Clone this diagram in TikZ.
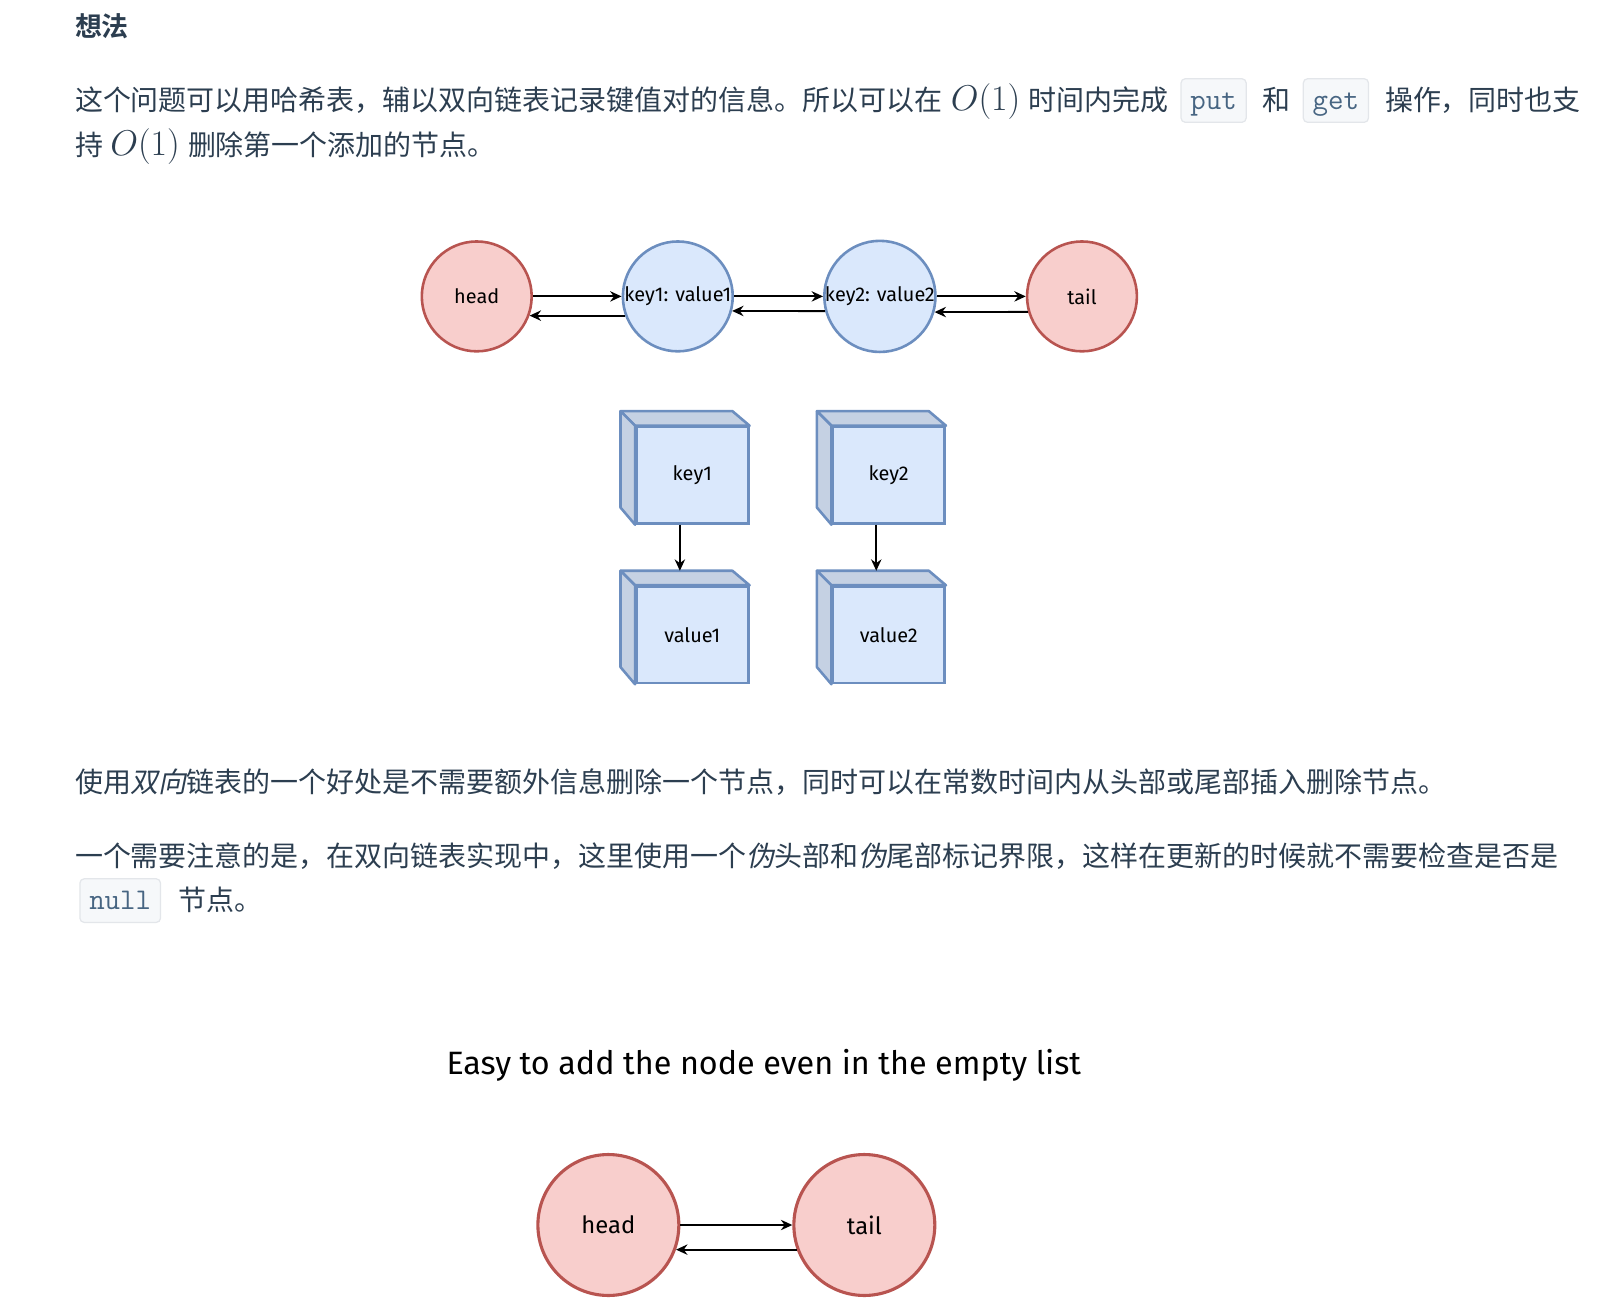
\documentclass[tikz,border=0pt]{standalone}
\usepackage{fontspec}
\usepackage{tikz}
\usetikzlibrary{arrows.meta}
\usetikzlibrary{positioning}
\newfontfamily\cjk{Noto Sans CJK SC}[BoldFont={Noto Sans CJK SC Bold}]
\newfontfamily\cjkit{Noto Sans CJK SC}[FakeSlant=0.2]
\newfontfamily\handfont{Fira Sans}
\definecolor{txt}{HTML}{2C3E50}
\definecolor{codetxt}{HTML}{476582}
\definecolor{codebg}{HTML}{F6F8FA}
\definecolor{codeline}{HTML}{E3E6EA}
\definecolor{redfill}{HTML}{F8CECC}
\definecolor{redline}{HTML}{B85450}
\definecolor{bluefill}{HTML}{DAE8FC}
\definecolor{blueline}{HTML}{6C8EBF}
\definecolor{blueside}{HTML}{C5D1E3}

\begin{document}
\begin{tikzpicture}[x=0.5pt,y=-0.5pt,
		para/.style={anchor=base west, inner sep=0pt, text=txt, font=\cjk\fontsize{13.5}{16}\selectfont},
		mathseg/.style={anchor=base west, inner sep=0pt, text=txt, font=\fontsize{16.3}{19}\selectfont},
		codebox/.style={rectangle, rounded corners=2pt, draw=codeline, fill=codebg, line width=0.6pt, minimum height=21pt, inner xsep=4.5pt, text height=11.6pt, text depth=2.6pt, text=codetxt, font=\ttfamily\fontsize{14.5}{16}\selectfont},
		endnode/.style={circle, draw=redline, fill=redfill, line width=1.25pt, minimum size=53pt, inner sep=0pt, font=\handfont\fontsize{9.6}{11}\selectfont},
		itemnode/.style={circle, draw=blueline, fill=bluefill, line width=1.25pt, minimum size=53pt, inner sep=0pt, font=\handfont\fontsize{9.6}{11}\selectfont},
		cubeface/.style={rectangle, draw=blueline, fill=bluefill, line width=1.25pt, minimum width=54pt, minimum height=46.5pt, inner sep=0pt, font=\handfont\fontsize{9.6}{11}\selectfont},
		cubeside/.style={draw=blueline, fill=blueside, line width=1.25pt, line join=round},
		bigend/.style={endnode, minimum size=68pt, line width=1.5pt, font=\handfont\fontsize{11.5}{13}\selectfont},
		link/.style={-{Stealth[length=5.5pt,width=5pt]}, line width=0.9pt}]
	\useasboundingbox (0,0) rectangle (1567,1256);

	\node[para, font=\cjk\bfseries\fontsize{13}{16}\selectfont] (title) at (72,35) {想法};

	\node[para] (l1a) at (72,107) {这个问题可以用哈希表，辅以双向链表记录键值对的信息。所以可以在};
	\node[mathseg] (l1b) at (917,107) {$O(1)$};
	\node[para] (l1c) at (992,107) {时间内完成};
	\node[codebox] (put) at (1171,97) {put};
	\node[para] (l1d) at (1218,107) {和};
	\node[codebox] (get) at (1289,97) {get};
	\node[para] (l1e) at (1336,107) {操作，同时也支};
	\node[para] (l2a) at (72,150) {持};
	\node[mathseg] (l2b) at (106,150) {$O(1)$};
	\node[para] (l2c) at (181,150) {删除第一个添加的节点。};

	\node[endnode] (head) at (460,286) {head};
	\node[itemnode] (n1) at (654,286) {key1: value1};
	\node[itemnode] (n2) at (849,286) {key2: value2};
	\node[endnode] (tail) at (1044,286) {tail};
	\draw[link] (head) -- (n1);
	\draw[link] (n1) -- (n2);
	\draw[link] (n2) -- (tail);
	\draw[link] (n1.200) -- (head.-20);
	\draw[link] (n2.195) -- (n1.-15);
	\draw[link] (tail.196) -- (n2.-16);

	\node[cubeface] (k1) at (668,458.5) {key1};
	\node[cubeface] (k2) at (857.5,458.5) {key2};
	\node[cubeface] (v1) at (668,612.5) {value1};
	\node[cubeface] (v2) at (857.5,612.5) {value2};
	\foreach \c in {k1,k2,v1,v2}{
		\filldraw[cubeside] (\c.north west) -- ++(-14,-14) -- ++(108,0) -- (\c.north east) -- cycle;
		\filldraw[cubeside] (\c.north west) -- ++(-14,-14) -- ++(0,93) -- (\c.south west) -- cycle;
	}
	\draw[link] ([xshift=-6pt]k1.south) -- ([xshift=-6pt,yshift=7pt]v1.north);
	\draw[link] ([xshift=-6pt]k2.south) -- ([xshift=-6pt,yshift=7pt]v2.north);

	\node[para] (p2) at (72,765) {使用{\cjkit 双向}链表的一个好处是不需要额外信息删除一个节点，同时可以在常数时间内从头部或尾部插入删除节点。};
	\node[para] (p3) at (72,836) {一个需要注意的是，在双向链表实现中，这里使用一个{\cjkit 伪}头部和{\cjkit 伪}尾部标记界限，这样在更新的时候就不需要检查是否是};
	\node[codebox] (null) at (116,869) {null};
	\node[para] (p3b) at (172,879) {节点。};

	\node[font=\handfont\fontsize{15.6}{19}\selectfont] (easy) at (737,1028) {Easy to add the node even in the empty list};
	\node[bigend] (ehead) at (587,1182) {head};
	\node[bigend] (etail) at (834,1182) {tail};
	\draw[link] (ehead) -- (etail);
	\draw[link] (etail.200) -- (ehead.-20);
\end{tikzpicture}
\end{document}
